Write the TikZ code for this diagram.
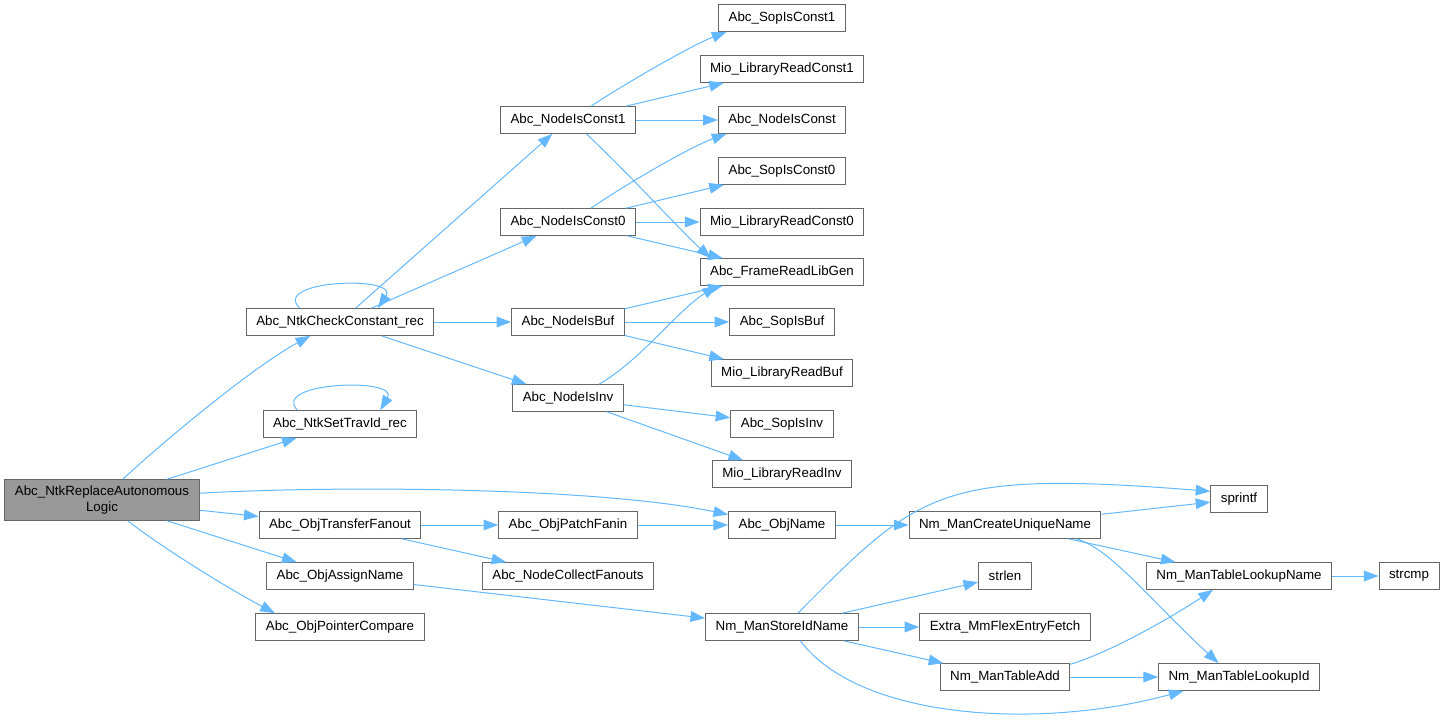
\documentclass[tikz,border=0pt]{standalone}
\usepackage{fontspec}
\setmainfont{Liberation Sans}
\usetikzlibrary{arrows.meta}
\definecolor{edgeblue}{HTML}{63B8FF}
\definecolor{boxgray}{HTML}{666666}
\definecolor{maingray}{HTML}{999999}

\begin{document}
\begin{tikzpicture}[x=0.75pt, y=-0.75pt,
    fn/.style={draw=boxgray, line width=0.75pt, fill=white, inner xsep=7.5pt, inner ysep=0pt,
      minimum height=20pt, font=\fontsize{10}{12}\selectfont},
    call/.style={draw=edgeblue, line width=0.75pt, -{Triangle[length=11pt, width=8pt]}}]
    \useasboundingbox (0,0) rectangle (1445,721);

    % Caller
    \node[fn, fill=maingray, align=center, minimum height=30.5pt] (main) at (102,500)
      {Abc\_NtkReplaceAutonomous\\Logic};

    % First level
    \node[fn] (chk) at (340,322) {Abc\_NtkCheckConstant\_rec};
    \node[fn] (stid) at (340,424) {Abc\_NtkSetTravId\_rec};
    \node[fn] (tf) at (340,525) {Abc\_ObjTransferFanout};
    \node[fn] (an) at (340,576) {Abc\_ObjAssignName};
    \node[fn] (pc) at (340,627) {Abc\_ObjPointerCompare};

    % Second level
    \node[fn] (c1) at (568,120) {Abc\_NodeIsConst1};
    \node[fn] (c0) at (568,222) {Abc\_NodeIsConst0};
    \node[fn] (buf) at (568,322) {Abc\_NodeIsBuf};
    \node[fn] (inv) at (568,398) {Abc\_NodeIsInv};
    \node[fn] (pf) at (568,525) {Abc\_ObjPatchFanin};
    \node[fn] (ncf) at (568,576) {Abc\_NodeCollectFanouts};

    % Third level
    \node[fn] (s1) at (782,18) {Abc\_SopIsConst1};
    \node[fn] (mc1) at (782,69) {Mio\_LibraryReadConst1};
    \node[fn] (nc) at (782,120) {Abc\_NodeIsConst};
    \node[fn] (s0) at (782,171) {Abc\_SopIsConst0};
    \node[fn] (mc0) at (782,222) {Mio\_LibraryReadConst0};
    \node[fn] (lg) at (782,272) {Abc\_FrameReadLibGen};
    \node[fn] (sb) at (782,322) {Abc\_SopIsBuf};
    \node[fn] (mb) at (782,373) {Mio\_LibraryReadBuf};
    \node[fn] (si) at (782,424) {Abc\_SopIsInv};
    \node[fn] (mi) at (782,474) {Mio\_LibraryReadInv};
    \node[fn] (obj) at (782,525) {Abc\_ObjName};
    \node[fn] (sid) at (782,627) {Nm\_ManStoreIdName};

    % Name manager
    \node[fn] (cun) at (1005,525) {Nm\_ManCreateUniqueName};
    \node[fn] (sl) at (1005,576) {strlen};
    \node[fn] (ex) at (1005,627) {Extra\_MmFlexEntryFetch};
    \node[fn] (ta) at (1005,677) {Nm\_ManTableAdd};
    \node[fn] (spr) at (1239,499) {sprintf};
    \node[fn] (ln) at (1239,576) {Nm\_ManTableLookupName};
    \node[fn] (lid) at (1239,677) {Nm\_ManTableLookupId};
    \node[fn] (scmp) at (1409,576) {strcmp};

    % Calls from the caller
    \draw[call] (main.45) .. controls (174,432) and (258,364) .. (chk.205);
    \draw[call] (main) -- (stid);
    \draw[call] (main.4) .. controls (350,485) and (600,488) .. (obj.169);
    \draw[call] (main) -- (tf);
    \draw[call] (main) -- (an);
    \draw[call] (main.-39) .. controls (167,551) and (231,590) .. (pc.168);

    % Recursive ones
    \draw[call] (chk.161) .. controls (270,280) and (400,275) .. (chk.20);
    \draw[call] (stid.162) .. controls (270,382) and (400,377) .. (stid.19);

    \draw[call] (chk) -- (c1);
    \draw[call] (chk) -- (c0);
    \draw[call] (chk) -- (buf);
    \draw[call] (chk) -- (inv);

    \draw[call] (c1.31) .. controls (623,85) and (690,46) .. (s1.194);
    \draw[call] (c1) -- (mc1);
    \draw[call] (c1) -- (nc);
    \draw[call] (c1.-37) .. controls (630,175) and (680,230) .. (lg.169);

    \draw[call] (c0.31) .. controls (623,186) and (690,147) .. (nc.194);
    \draw[call] (c0) -- (s0);
    \draw[call] (c0) -- (mc0);
    \draw[call] (c0) -- (lg);

    \draw[call] (buf) -- (lg);
    \draw[call] (buf) -- (sb);
    \draw[call] (buf) -- (mb);

    \draw[call] (inv.24) .. controls (641,360) and (678,310) .. (lg.192);
    \draw[call] (inv) -- (si);
    \draw[call] (inv) -- (mi);

    \draw[call] (tf) -- (pf);
    \draw[call] (tf) -- (ncf);
    \draw[call] (pf) -- (obj);
    \draw[call] (an) -- (sid);
    \draw[call] (obj) -- (cun);

    \draw[call] (cun) -- (spr);
    \draw[call] (cun) -- (ln);
    \draw[call] (cun.-11) .. controls (1110,548) and (1150,600) .. (lid.146);

    \draw[call] (sid.41) .. controls (920,490) and (940,470) .. (spr.165);
    \draw[call] (sid) -- (sl);
    \draw[call] (sid) -- (ex);
    \draw[call] (sid) -- (ta);
    \draw[call] (sid.-37) .. controls (860,720) and (1040,730) .. (lid.194);

    \draw[call] (ta.11) .. controls (1117,650) and (1181,611) .. (ln.208);
    \draw[call] (ta) -- (lid);
    \draw[call] (ln) -- (scmp);
\end{tikzpicture}
\end{document}
